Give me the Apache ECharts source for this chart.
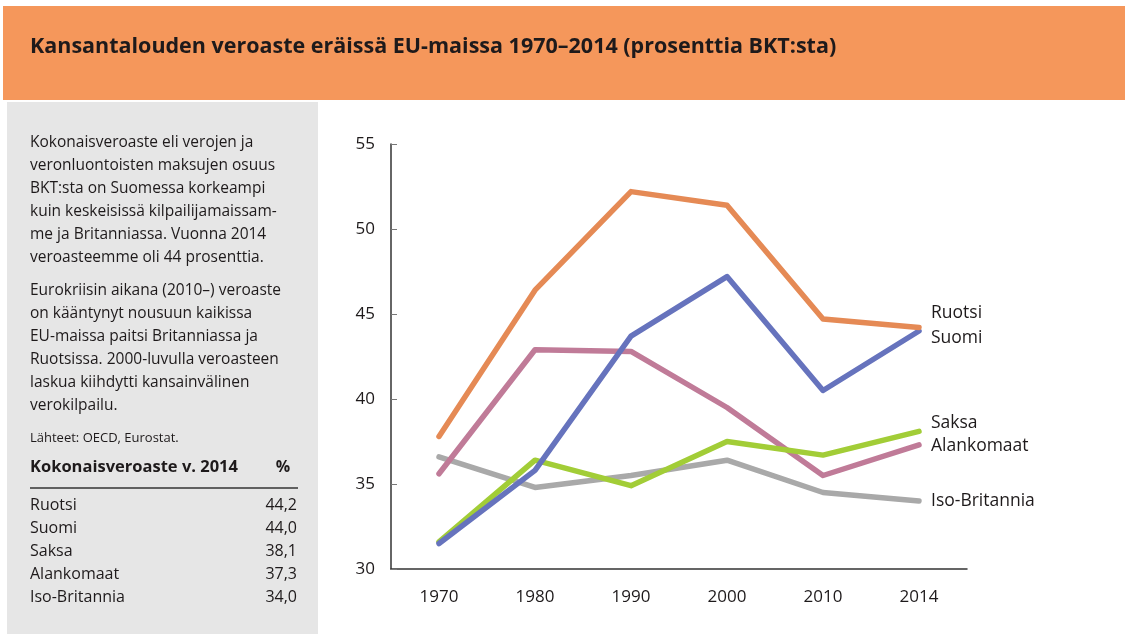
<!DOCTYPE html>
<html>
<head>
<meta charset="utf-8">
<script src="https://cdn.jsdelivr.net/npm/echarts@6/dist/echarts.min.js"></script>
<style>
  html, body { margin: 0; padding: 0; background: #fff; }
  #chart { width: 1125px; height: 634px; }
</style>
</head>
<body>
<div id="chart"></div>
<script>
var years = ['1970', '1980', '1990', '2000', '2010', '2014']
var yTicks = [30, 35, 40, 45, 50, 55]

var ruotsi = [37.8, 46.4, 52.2, 51.4, 44.7, 44.2]
var suomi = [31.5, 35.8, 43.7, 47.2, 40.5, 44.0]
var saksa = [31.6, 36.4, 34.9, 37.5, 36.7, 38.1]
var alankomaat = [35.6, 42.9, 42.8, 39.5, 35.5, 37.3]
var isoBritannia = [36.6, 34.8, 35.5, 36.4, 34.5, 34.0]

var titleText = 'Kansantalouden veroaste eräissä EU-maissa 1970–2014 (prosenttia BKT:sta)'
var para1 = [
  'Kokonaisveroaste eli verojen ja',
  'veronluontoisten maksujen osuus',
  'BKT:sta on Suomessa korkeampi',
  'kuin keskeisissä kilpailijamaissam-',
  'me ja Britanniassa. Vuonna 2014',
  'veroasteemme oli 44 prosenttia.'
]
var para2 = [
  'Eurokriisin aikana (2010–) veroaste',
  'on kääntynyt nousuun kaikissa',
  'EU-maissa paitsi Britanniassa ja',
  'Ruotsissa. 2000-luvulla veroasteen',
  'laskua kiihdytti kansainvälinen',
  'verokilpailu.'
]
var sourceText = 'Lähteet: OECD, Eurostat.'
var tableHead = 'Kokonaisveroaste v. 2014'

var font = '"Open Sans", "Noto Sans", sans-serif'
var textColor = '#1e1a1b'

// series: name, data, color, end label offset
var lines = [
  { name: 'Iso-Britannia', data: isoBritannia, color: '#a9a9a9', off: [0, 0] },
  { name: 'Alankomaat', data: alankomaat, color: '#c07b98', off: [0, 1] },
  { name: 'Saksa', data: saksa, color: '#a2cd37', off: [0, -8] },
  { name: 'Suomi', data: suomi, color: '#6673bd', off: [0, 7] },
  { name: 'Ruotsi', data: ruotsi, color: '#e58a55', off: [0, -15] }
]

var tableRows = ['Ruotsi', 'Suomi', 'Saksa', 'Alankomaat', 'Iso-Britannia'].map(function (n) {
  var l = lines.filter(function (s) { return s.name === n })[0]
  return { name: n, value: l.data[l.data.length - 1].toFixed(1).replace('.', ',') }
})

var graphic = [
  { type: 'rect', shape: { x: 3, y: 6, width: 1122, height: 94 }, style: { fill: '#f5975b' }, silent: true },
  { type: 'rect', shape: { x: 7, y: 102, width: 311, height: 532 }, style: { fill: '#e6e6e6' }, silent: true },
  { type: 'text', x: 30, y: 47, style: { text: titleText, font: 'bold 21.5px ' + font, fill: textColor, textVerticalAlign: 'middle' } }
]
para1.forEach(function (t, i) {
  graphic.push({ type: 'text', x: 30, y: 143 + i * 23, style: { text: t, font: '15.5px ' + font, fill: textColor, textVerticalAlign: 'middle' } })
})
para2.forEach(function (t, i) {
  graphic.push({ type: 'text', x: 30, y: 291 + i * 23, style: { text: t, font: '15.5px ' + font, fill: textColor, textVerticalAlign: 'middle' } })
})
graphic.push({ type: 'text', x: 30, y: 438, style: { text: sourceText, font: '13px ' + font, fill: textColor, textVerticalAlign: 'middle' } })
graphic.push({ type: 'text', x: 30, y: 467, style: { text: tableHead, font: 'bold 16.5px ' + font, fill: textColor, textVerticalAlign: 'middle' } })
graphic.push({ type: 'text', x: 283, y: 467, style: { text: '%', font: 'bold 16px ' + font, fill: textColor, textAlign: 'center', textVerticalAlign: 'middle' } })
graphic.push({ type: 'line', shape: { x1: 30, y1: 488, x2: 298, y2: 488 }, style: { stroke: '#333', lineWidth: 1.5 } })
tableRows.forEach(function (r, i) {
  var y = 505 + i * 23
  graphic.push({ type: 'text', x: 30, y: y, style: { text: r.name, font: '16px ' + font, fill: textColor, textVerticalAlign: 'middle' } })
  graphic.push({ type: 'text', x: 297, y: y, style: { text: r.value, font: '16px ' + font, fill: textColor, textAlign: 'right', textVerticalAlign: 'middle' } })
})

var chart = echarts.init(document.getElementById('chart'))
chart.setOption({
  backgroundColor: '#fff',
  animation: false,
  graphic: graphic,
  grid: { left: 391, right: 158, top: 144, bottom: 65, containLabel: false },
  xAxis: {
    type: 'category',
    data: years,
    boundaryGap: true,
    axisLine: { lineStyle: { color: '#333', width: 1.5 } },
    axisTick: { inside: true, length: 5, interval: 0, lineStyle: { color: '#777' } },
    axisLabel: { color: textColor, fontSize: 17, fontFamily: font, margin: 20 }
  },
  yAxis: {
    type: 'value',
    min: yTicks[0],
    max: yTicks[yTicks.length - 1],
    interval: 5,
    axisLine: { show: true, lineStyle: { color: '#333', width: 1.5 } },
    axisTick: { show: true, inside: true, length: 6, lineStyle: { color: '#777' } },
    splitLine: { show: false },
    axisLabel: { color: textColor, fontSize: 17, fontFamily: font, margin: 16 }
  },
  series: lines.map(function (l) {
    return {
      name: l.name,
      type: 'line',
      data: l.data,
      symbol: 'none',
      lineStyle: { color: l.color, width: 5.5, cap: 'round', join: 'round' },
      itemStyle: { color: l.color },
      endLabel: {
        show: true,
        formatter: '{a}',
        color: textColor,
        fontSize: 17.5,
        fontFamily: font,
        distance: 12,
        offset: l.off
      }
    }
  })
})
</script>
</body>
</html>
